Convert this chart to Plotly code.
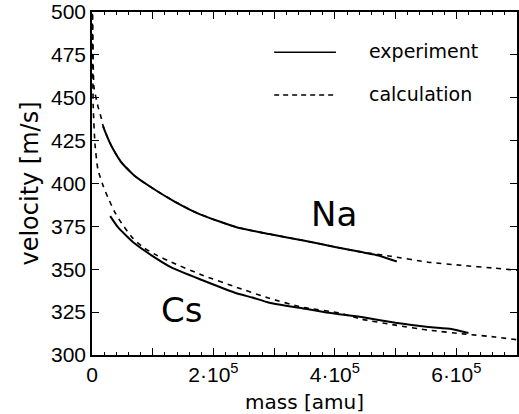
import plotly.graph_objects as go

# Measured cluster velocities versus cluster mass
na_exp_mass = [1.8e4, 2.6e4, 3.4e4, 4.8e4, 7.0e4, 1.03e5, 1.36e5, 1.78e5, 2.38e5,
               2.92e5, 3.46e5, 4.0e5, 4.44e5, 4.72e5, 5.02e5]
na_exp_vel = [433.5, 426.5, 420.5, 412.5, 404.5, 396.5, 389.5, 382.0, 374.5,
              370.5, 366.9, 363.0, 360.0, 358.0, 354.5]

cs_exp_mass = [3.0e4, 4.3e4, 7.0e4, 9.8e4, 1.33e5, 1.82e5, 2.38e5, 2.64e5, 2.92e5,
               3.46e5, 3.9e5, 4.44e5, 5.0e5, 5.54e5, 5.92e5, 6.2e5]
cs_exp_vel = [381.0, 374.4, 365.1, 358.1, 350.6, 343.6, 336.0, 333.5, 330.5,
              327.3, 324.6, 322.1, 318.8, 316.3, 315.1, 312.8]

# Model calculation
na_calc_mass = [5e2, 1.5e3, 3.3e3, 9.8e3, 1.5e4, 1.8e4, 2.6e4, 3.4e4, 4.8e4, 7.0e4,
                1.03e5, 1.36e5, 1.78e5, 2.38e5, 2.92e5, 3.46e5, 4.0e5, 4.44e5,
                4.92e5, 5.54e5, 6.08e5, 6.64e5, 7.0e5]
na_calc_vel = [510.0, 482.0, 456.0, 445.0, 438.5, 434.0, 426.5, 420.5, 412.5, 404.5,
               396.5, 389.5, 382.0, 374.5, 370.5, 366.9, 363.0, 360.0,
               357.6, 354.1, 352.3, 350.6, 349.4]

cs_calc_mass = [5e2, 2e3, 4.9e3, 9.8e3, 1.8e4, 2.6e4, 3.8e4, 4.9e4, 6.6e4, 8.4e4,
                1.07e5, 1.31e5, 1.82e5, 2.38e5, 2.92e5, 3.46e5, 4.07e5, 4.44e5,
                5.0e5, 5.54e5, 6.15e5, 6.64e5, 7.0e5]
cs_calc_vel = [505.0, 445.0, 423.0, 408.0, 399.0, 392.0, 383.0, 376.7, 368.6, 362.8,
               358.1, 354.1, 346.5, 339.5, 333.1, 327.9, 324.5, 320.9,
               317.4, 314.5, 312.2, 310.5, 308.9]

x_tickvals = [0, 1e5, 2e5, 3e5, 4e5, 5e5, 6e5, 7e5]
x_ticktext = ["0", "", "2·10<sup>5</sup>", "", "4·10<sup>5</sup>", "",
              "6·10<sup>5</sup>", ""]
y_tickvals = [300, 325, 350, 375, 400, 425, 450, 475, 500]

BLACK = "#000000"
SOLID = dict(color=BLACK, width=2, shape="spline", smoothing=0.5)
DASHED = dict(color=BLACK, width=1.6, dash="5px,5px", shape="spline", smoothing=0.5)

fig = go.Figure()
fig.add_trace(go.Scatter(x=na_calc_mass, y=na_calc_vel, mode="lines", line=DASHED))
fig.add_trace(go.Scatter(x=cs_calc_mass, y=cs_calc_vel, mode="lines", line=DASHED))
fig.add_trace(go.Scatter(x=na_exp_mass, y=na_exp_vel, mode="lines", line=SOLID))
fig.add_trace(go.Scatter(x=cs_exp_mass, y=cs_exp_vel, mode="lines", line=SOLID))

TEXT_FONT = "DejaVu Sans"
TICK_FONT = "Liberation Sans"

# Legend drawn inside the frame
fig.add_shape(type="line", xref="paper", yref="paper", x0=0.4286, x1=0.574,
              y0=0.883, y1=0.883, line=dict(color=BLACK, width=1.5))
fig.add_shape(type="line", xref="paper", yref="paper", x0=0.4286, x1=0.574,
              y0=0.758, y1=0.758, line=dict(color=BLACK, width=1.5, dash="5px,4px"))
fig.add_annotation(text="experiment", xref="paper", yref="paper", x=0.646, y=0.886,
                   xanchor="left", yanchor="middle", showarrow=False,
                   font=dict(family=TEXT_FONT, size=19, color=BLACK))
fig.add_annotation(text="calculation", xref="paper", yref="paper", x=0.646, y=0.761,
                   xanchor="left", yanchor="middle", showarrow=False,
                   font=dict(family=TEXT_FONT, size=19, color=BLACK))

# Species labels
fig.add_annotation(text="Na", x=3.98e5, y=382, showarrow=False,
                   font=dict(family=TEXT_FONT, size=34, color=BLACK))
fig.add_annotation(text="Cs", x=1.48e5, y=326, showarrow=False,
                   font=dict(family=TEXT_FONT, size=34, color=BLACK))

fig.update_layout(
    width=519, height=414,
    margin=dict(l=92, r=0, t=12, b=59),
    paper_bgcolor="white", plot_bgcolor="white",
    showlegend=False,
    xaxis=dict(
        range=[0, 7e5], tickmode="array", tickvals=x_tickvals, ticktext=x_ticktext,
        ticks="inside", ticklen=7, tickwidth=1.2, tickcolor=BLACK,
        minor=dict(dtick=2e4, tick0=0, ticks="inside", ticklen=3, tickwidth=1,
                   tickcolor=BLACK),
        showline=True, linecolor=BLACK, linewidth=1.5, mirror="ticks",
        showgrid=False, zeroline=False,
        tickfont=dict(family=TICK_FONT, size=21, color=BLACK),
        title=dict(text="mass [amu]", standoff=12,
                   font=dict(family=TEXT_FONT, size=20, color=BLACK)),
    ),
    yaxis=dict(
        range=[300, 500], tickmode="array", tickvals=y_tickvals,
        ticks="inside", ticklen=7, tickwidth=1.2, tickcolor=BLACK,
        showline=True, linecolor=BLACK, linewidth=1.5, mirror="ticks",
        showgrid=False, zeroline=False,
        tickfont=dict(family=TICK_FONT, size=21, color=BLACK),
        title=dict(text="velocity [m/s]", standoff=6,
                   font=dict(family=TEXT_FONT, size=24, color=BLACK)),
    ),
)

fig.write_html("out.html")
